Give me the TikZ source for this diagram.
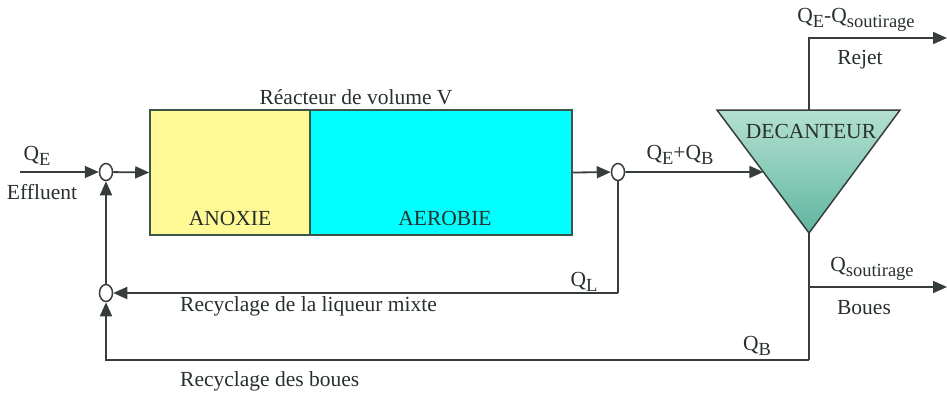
\documentclass[tikz,border=0pt]{standalone}
\usepackage{fontspec}
\setmainfont{Liberation Serif}
\newfontfamily\tnr{Liberation Serif}
\usetikzlibrary{arrows.meta,shapes.geometric,calc}
\definecolor{ink}{RGB}{55,62,58}
\definecolor{txt}{RGB}{40,48,44}
\definecolor{boxline}{RGB}{60,85,72}
\definecolor{anox}{RGB}{255,250,150}
\definecolor{aero}{RGB}{0,255,255}
\definecolor{dectop}{RGB}{180,224,210}
\definecolor{decbot}{RGB}{96,182,160}
\newcommand{\sbs}[1]{\raisebox{-0.5ex}{\fontsize{18.5}{18.5}\selectfont #1}}
\begin{document}
\begin{tikzpicture}[x=1pt,y=-1pt,
  every node/.style={font=\tnr\fontsize{21.5}{24}\selectfont, text=txt},
  flow/.style={draw=ink, line width=1.8pt},
  arr/.style={flow, -{Triangle[length=14pt,width=12pt]}},
  junc/.style={draw=ink, line width=1.5pt, fill=white, ellipse, minimum width=13pt, minimum height=17pt, inner sep=0pt},
  tank/.style={draw=boxline, line width=1.6pt, inner sep=0pt, minimum height=125pt},
  lbl/.style={inner sep=0pt}
]
\useasboundingbox (0,0) rectangle (947,392);
% reactor
\node[tank, fill=anox, minimum width=160pt] (anoxie) at (230,172.5) {};
\node[tank, fill=aero, minimum width=262pt] (aerobie) at (441,172.5) {};
\node[lbl] at (230,218) {ANOXIE};
\node[lbl] at (445,218) {AEROBIE};
\node[lbl] (reac) at (356,97) {Réacteur de volume V};
% junctions
\node[junc] (j1) at (106,172) {};
\node[junc] (j2) at (618,172) {};
\node[junc] (j3) at (106,293) {};
% decanter
\coordinate (dtl) at (717,110);
\coordinate (dtr) at (900,110);
\coordinate (db) at (809,233);
\coordinate (dtop) at (809,110);
\shade[top color=dectop, bottom color=decbot, draw=ink, line width=1.5pt] (dtl) -- (dtr) -- (db) -- cycle;
\node[lbl] (dec) at (811,131) {DECANTEUR};
\coordinate (din) at ($(dtl)!0.504!(db)$);
% free ends
\coordinate (qin) at (20,172);
\coordinate (rejout) at (947,38);
\coordinate (rejcorner) at (809,38);
\coordinate (bouout) at (947,287);
\coordinate (boujoin) at (809,287);
\coordinate (bbot) at (809,360);
\coordinate (blft) at (106,360);
\coordinate (lcorner) at (618,293);
% connectors
\draw[arr] (qin) -- (j1);
\draw[arr] (j1) -- (anoxie.west);
\draw[arr] (aerobie.east) -- (j2);
\draw[arr] (j2) -- (din);
\draw[flow] (j2) -- (lcorner);
\draw[arr] (lcorner) -- (j3);
\draw[arr] (j3) -- (j1);
\draw[arr] (dtop) -- (rejcorner) -- (rejout);
\draw[flow] (db) -- (bbot);
\draw[arr] (boujoin) -- (bouout);
\draw[arr] (bbot) -- (blft) -- (j3);
% labels
\node[lbl] at (37,156) {Q\sbs{E}};
\node[lbl] at (42,192) {Effluent};
\node[lbl] at (680,155) {Q\sbs{E}+Q\sbs{B}};
\node[lbl] at (856,20) {Q\sbs{E}-Q\sbs{soutirage}};
\node[lbl] at (860,60) {Rejet};
\node[lbl] at (872,269) {Q\sbs{soutirage}};
\node[lbl] at (864,308) {Boues};
\node[lbl] at (584,282) {Q\sbs{L}};
\node[lbl, anchor=west] at (180,306) {Recyclage de la liqueur mixte};
\node[lbl] at (757,346) {Q\sbs{B}};
\node[lbl, anchor=west] at (180,381) {Recyclage des boues};
\end{tikzpicture}
\end{document}
